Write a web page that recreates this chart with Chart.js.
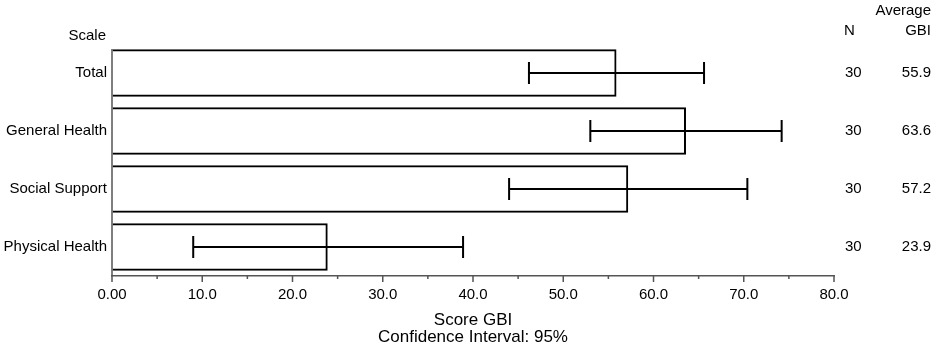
<!DOCTYPE html>
<html>
<head>
<meta charset="utf-8">
<script src="https://cdn.jsdelivr.net/npm/chart.js@4.4.0/dist/chart.umd.min.js"></script>
<style>
  html, body { margin: 0; padding: 0; background: #fff; }
  #wrap { width: 935px; height: 348px; position: relative; }
</style>
</head>
<body>
<div id="wrap"><canvas id="mainChart"></canvas></div>
<script>
// --- DADOS ---
const scales = ['Total', 'General Health', 'Social Support', 'Physical Health'];
const averageGBI = [55.9, 63.6, 57.2, 23.9];
const ciLow = [46.2, 53.0, 44.0, 9.0];
const ciHigh = [65.6, 74.2, 70.4, 38.9];
const nValues = [30, 30, 30, 30];
const xTicks = [0, 10, 20, 30, 40, 50, 60, 70, 80];

const FONT = "'Liberation Sans', Arial, sans-serif";
const AXIS_COLOR = '#555';

// barras de erro (IC 95%)
const errorBars = {
    id: 'errorBars',
    afterDatasetsDraw(chart) {
        const ctx = chart.ctx;
        const xs = chart.scales.x, ys = chart.scales.y;
        ctx.save();
        ctx.strokeStyle = '#000';
        ctx.lineWidth = 2;
        scales.forEach((s, i) => {
            const y = ys.getPixelForValue(i);
            const x1 = xs.getPixelForValue(ciLow[i]);
            const x2 = xs.getPixelForValue(ciHigh[i]);
            ctx.beginPath();
            ctx.moveTo(x1, y); ctx.lineTo(x2, y);
            ctx.moveTo(x1, y - 11); ctx.lineTo(x1, y + 11);
            ctx.moveTo(x2, y - 11); ctx.lineTo(x2, y + 11);
            ctx.stroke();
        });
        ctx.restore();
    }
};

// eixo Y mais curto no topo + marcas do eixo X (maiores a cada 10)
const axisMarks = {
    id: 'axisMarks',
    afterDraw(chart) {
        const ctx = chart.ctx;
        const area = chart.chartArea;
        const xs = chart.scales.x;
        ctx.save();
        ctx.strokeStyle = AXIS_COLOR;
        ctx.lineWidth = 1.5;
        ctx.beginPath();
        ctx.moveTo(area.left, area.top + 5);
        ctx.lineTo(area.left, area.bottom);
        xs.ticks.forEach(t => {
            const x = xs.getPixelForValue(t.value);
            const len = xTicks.includes(t.value) ? 6 : 3;
            ctx.moveTo(x, area.bottom);
            ctx.lineTo(x, area.bottom + len);
        });
        ctx.stroke();
        ctx.restore();
    }
};

// colunas N e media + cabecalhos
const sideColumns = {
    id: 'sideColumns',
    afterDraw(chart) {
        const ctx = chart.ctx;
        const area = chart.chartArea;
        const ys = chart.scales.y;
        const nX = area.right + 11;
        const avgX = chart.width - 4;
        ctx.save();
        ctx.fillStyle = '#000';
        ctx.font = '15px ' + FONT;
        ctx.textBaseline = 'middle';

        ctx.textAlign = 'right';
        ctx.fillText('Scale', area.left - 6, 36);
        ctx.fillText('Average', avgX, 11);
        ctx.fillText('GBI', avgX, 31);
        ctx.textAlign = 'left';
        ctx.fillText('N', nX - 1, 31);

        scales.forEach((s, i) => {
            const y = ys.getPixelForValue(i);
            ctx.textAlign = 'left';
            ctx.fillText(String(nValues[i]), nX, y);
            ctx.textAlign = 'right';
            ctx.fillText(averageGBI[i].toFixed(1), avgX, y);
        });
        ctx.restore();
    }
};

const ctx = document.getElementById('mainChart').getContext('2d');
const mainChart = new Chart(ctx, {
    type: 'bar',
    data: {
        labels: scales,
        datasets: [{
            label: 'Average GBI',
            data: averageGBI,
            backgroundColor: 'rgba(255,255,255,0)',
            borderColor: '#000',
            borderWidth: 2,
            barPercentage: 0.82,
            categoryPercentage: 1
        }]
    },
    options: {
        indexAxis: 'y',
        responsive: true,
        maintainAspectRatio: false,
        animation: false,
        layout: { padding: { top: 44, right: 101, left: 0, bottom: 0 } },
        plugins: {
            legend: { display: false },
            tooltip: { enabled: false }
        },
        scales: {
            x: {
                min: 0,
                max: 80,
                afterFit: (s) => { s.height = 72; },
                ticks: {
                    stepSize: 5,
                    autoSkip: false,
                    maxRotation: 0,
                    padding: 10,
                    color: '#000',
                    font: { family: FONT, size: 15 },
                    callback: (v) => xTicks.includes(v) ? (v === 0 ? '0.00' : v.toFixed(1)) : ''
                },
                grid: { drawOnChartArea: false, drawTicks: false },
                border: { color: AXIS_COLOR, width: 1.5 },
                title: {
                    display: true,
                    text: ['Score GBI', 'Confidence Interval: 95%'],
                    color: '#000',
                    font: { family: FONT, size: 17, lineHeight: 1.0 },
                    padding: { top: 4, bottom: 2 }
                }
            },
            y: {
                afterFit: (s) => { s.width = 112; },
                ticks: {
                    padding: 5,
                    color: '#000',
                    font: { family: FONT, size: 15 }
                },
                grid: { drawOnChartArea: false, drawTicks: false },
                border: { display: false }
            }
        }
    },
    plugins: [errorBars, axisMarks, sideColumns]
});
</script>
</body>
</html>
